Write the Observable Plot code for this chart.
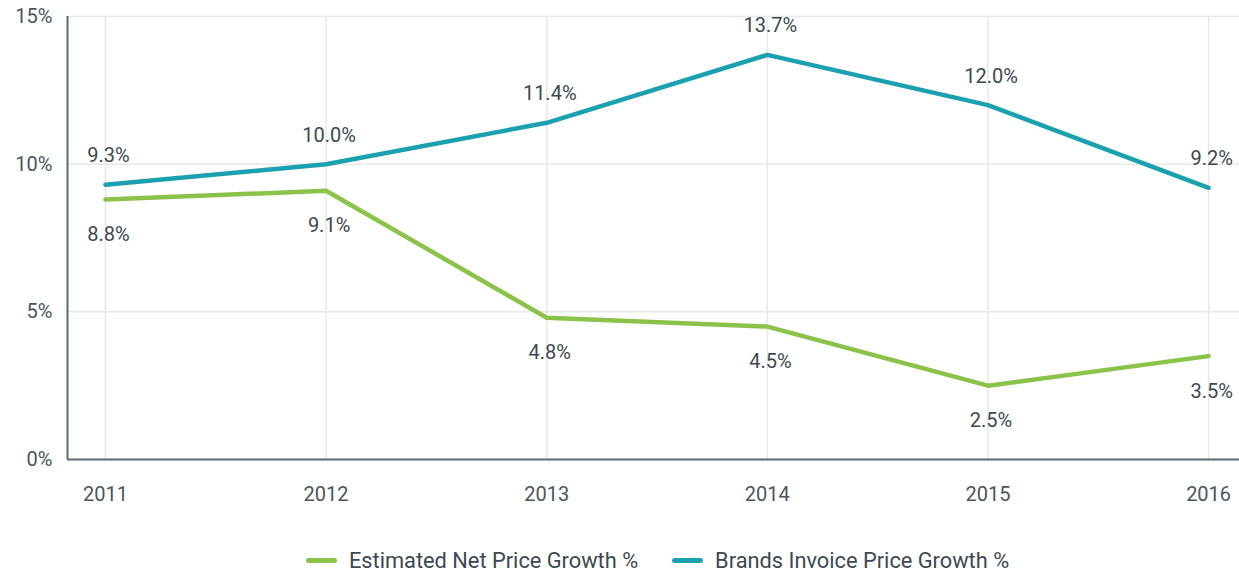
<!DOCTYPE html>
<html>
<head>
<meta charset="utf-8">
<script src="https://cdn.jsdelivr.net/npm/d3@7"></script>
<script src="https://cdn.jsdelivr.net/npm/@observablehq/plot@0.6"></script>
<style>
  html, body { margin: 0; padding: 0; background: #fff; }
  body { width: 1239px; height: 573px; overflow: hidden; font-family: Roboto, "Open Sans", sans-serif; }
  #legend { display: flex; justify-content: center; align-items: center; height: 30px; margin-top: 15px; padding-left: 76px; color: #3d4952; font-size: 21.8px; }
  .item { display: flex; align-items: center; margin: 0 17px; white-space: nowrap; }
  .sw { width: 31px; height: 5px; border-radius: 3px; margin-right: 12px; }
</style>
</head>
<body>
<div id="chart"></div>
<div id="legend"></div>
<script>
const years = [2011, 2012, 2013, 2014, 2015, 2016];
const netGrowth = [8.8, 9.1, 4.8, 4.5, 2.5, 3.5];
const invoiceGrowth = [9.3, 10.0, 11.4, 13.7, 12.0, 9.2];
const yTicks = [0, 5, 10, 15];
const seriesNames = ["Estimated Net Price Growth %", "Brands Invoice Price Growth %"];
const seriesColors = ["#8bc34a", "#1aa0ae"];

const net = years.map((y, i) => ({year: y, value: netGrowth[i]}));
const inv = years.map((y, i) => ({year: y, value: invoiceGrowth[i]}));

const xDomain = [2010.828, 2016.14];
const textColor = "#3d4952";
const axisColor = "#5b6b72";
const gridColor = "#e8e8e8";

const chart = Plot.plot({
  width: 1239,
  height: 530,
  marginLeft: 67,
  marginRight: 0,
  marginTop: 16,
  marginBottom: 71,
  style: {fontFamily: "Roboto, sans-serif", fontSize: "20px", color: textColor, background: "#fff"},
  x: {type: "linear", domain: xDomain, axis: null},
  y: {domain: [0, 15], axis: null},
  marks: [
    Plot.gridY(yTicks.filter(d => d > 0), {stroke: gridColor, strokeOpacity: 1, strokeWidth: 1.5}),
    Plot.gridX(years, {stroke: gridColor, strokeOpacity: 1, strokeWidth: 1.5}),
    Plot.axisY(yTicks, {tickSize: 0, tickPadding: 15, tickFormat: d => d + "%", fill: "#4a565e", fontSize: 20, label: null}),
    Plot.axisX(years, {tickSize: 0, tickPadding: 27, tickFormat: d => String(d), fill: "#4a565e", fontSize: 20, label: null}),
    Plot.ruleX([xDomain[0]], {y1: 0, y2: 15, stroke: axisColor, strokeWidth: 2}),
    Plot.ruleY([0], {stroke: axisColor, strokeWidth: 2}),
    Plot.line(net, {x: "year", y: "value", stroke: seriesColors[0], strokeWidth: 4.5}),
    Plot.line(inv, {x: "year", y: "value", stroke: seriesColors[1], strokeWidth: 4.5}),
    Plot.text(inv, {x: "year", y: "value", text: d => d.value.toFixed(1) + "%", dy: -29, dx: 3, fill: textColor, fontSize: 20}),
    Plot.text(net, {x: "year", y: "value", text: d => d.value.toFixed(1) + "%", dy: 35, dx: 3, fill: textColor, fontSize: 20})
  ]
});
document.getElementById("chart").appendChild(chart);

const legend = document.getElementById("legend");
seriesNames.forEach((name, i) => {
  const item = document.createElement("div");
  item.className = "item";
  const sw = document.createElement("span");
  sw.className = "sw";
  sw.style.background = seriesColors[i];
  const label = document.createElement("span");
  label.textContent = name;
  item.appendChild(sw);
  item.appendChild(label);
  legend.appendChild(item);
});
</script>
</body>
</html>
